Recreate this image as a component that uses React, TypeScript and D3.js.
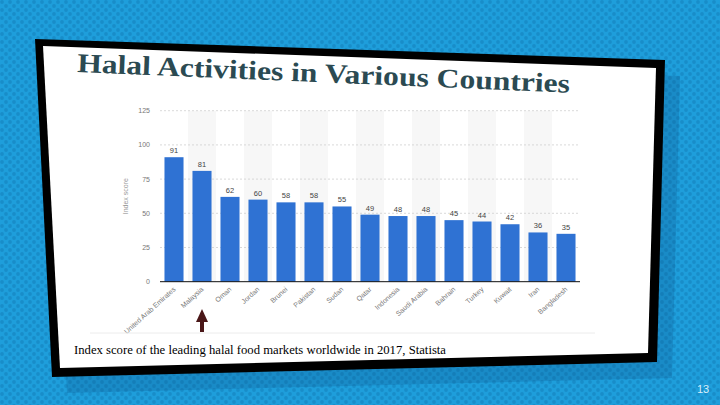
import React from "react";
import * as d3 from "d3";

const categories = [
  "United Arab Emirates", "Malaysia", "Oman", "Jordan", "Brunei", "Pakistan", "Sudan",
  "Qatar", "Indonesia", "Saudi Arabia", "Bahrain", "Turkey", "Kuwait", "Iran", "Bangladesh",
];
const values = [91, 81, 62, 60, 58, 58, 55, 49, 48, 48, 45, 44, 42, 36, 35];
const yTicks = [0, 25, 50, 75, 100, 125];
const titleText = "Halal Activities in Various Countries";
const captionText = "Index score of the leading halal food markets worldwide in 2017, Statista";
const yAxisTitle = "Index score";
const pageNumber = "13";

export default function App() {
  const x = d3.scaleBand<string>().domain(categories).range([160, 580]).paddingInner(0.32).paddingOuter(0.16);
  const y = d3.scaleLinear().domain([0, 125]).range([281.7, 110.7]);
  const step = x.step();

  const outer = [[35, 39], [665, 60], [657, 362], [52, 377]];
  const inner = [[43, 46], [656, 68], [648, 353], [60, 368]];
  const shadow = outer.map(([a, b]) => [a + 15, b + 16]);
  const pts = (p: number[][]) => p.map((q) => q.join(",")).join(" ");

  return (
    <svg width={720} height={405} style={{ position: "absolute", left: 0, top: 0 }}>
      <defs>
        <pattern id="dots" width={8} height={8} patternUnits="userSpaceOnUse">
          <rect width={8} height={8} fill="#1e9edb" />
          <circle cx={2} cy={2} r={1.9} fill="#188dc9" />
          <circle cx={6} cy={6} r={1.9} fill="#188dc9" />
        </pattern>
      </defs>
      <rect width={720} height={405} fill="url(#dots)" />
      <polygon points={pts(shadow)} fill="#0a4a80" opacity={0.22} />
      <polygon points={pts(outer)} fill="#000" />
      <polygon points={pts(inner)} fill="#fff" />

      <text
        x={77}
        y={72}
        transform="rotate(2.4 77 72)"
        fontFamily="'Liberation Serif', serif"
        fontWeight="bold"
        fontSize={27}
        fill="#2b4a52"
        textLength={493}
        lengthAdjust="spacingAndGlyphs"
      >
        {titleText}
      </text>

      {categories.map((c, i) =>
        i % 2 === 1 ? (
          <rect key={"bg" + c} x={(x(c) as number) + x.bandwidth() / 2 - step / 2} y={y(125)} width={step} height={y(0) - y(125)} fill="#f7f7f7" />
        ) : null
      )}

      {yTicks.filter((t) => t > 0).map((t) => (
        <line key={"g" + t} x1={160} x2={580} y1={y(t)} y2={y(t)} stroke="#cfcfcf" strokeWidth={0.8} strokeDasharray="2,2" />
      ))}
      {yTicks.map((t) => (
        <text key={"yt" + t} x={150} y={y(t) + 2.5} textAnchor="end" fontFamily="'Liberation Sans', Arial, sans-serif" fontSize={7} fill="#777">
          {t}
        </text>
      ))}
      <text
        transform={`translate(128, ${y(62.5)}) rotate(-90)`}
        textAnchor="middle"
        fontFamily="'Liberation Sans', Arial, sans-serif"
        fontSize={7}
        fill="#999"
      >
        {yAxisTitle}
      </text>

      {categories.map((c, i) => (
        <rect key={"b" + c} x={x(c)} y={y(values[i])} width={x.bandwidth()} height={y(0) - y(values[i])} fill="#2f72d3" />
      ))}
      {categories.map((c, i) => (
        <text key={"v" + c} x={(x(c) as number) + x.bandwidth() / 2} y={y(values[i]) - 4} textAnchor="middle" fontFamily="'Liberation Sans', Arial, sans-serif" fontSize={7.5} fill="#444">
          {values[i]}
        </text>
      ))}
      <line x1={160} x2={580} y1={y(0)} y2={y(0)} stroke="#111" strokeWidth={1} />

      {categories.map((c) => {
        const cx = (x(c) as number) + x.bandwidth() / 2 + 2;
        const cy = 290;
        return (
          <text key={"c" + c} x={cx} y={cy} transform={`rotate(-42 ${cx} ${cy})`} textAnchor="end" fontFamily="'Liberation Sans', Arial, sans-serif" fontSize={7} fill="#777">
            {c}
          </text>
        );
      })}

      <line x1={90} x2={595} y1={333} y2={333} stroke="#ececec" strokeWidth={1} />

      <g fill="#4a1718">
        <rect x={(x("Malaysia") as number) + x.bandwidth() / 2 - 2} y={320} width={4} height={12} />
        <polygon points={`${(x("Malaysia") as number) + x.bandwidth() / 2},309 ${(x("Malaysia") as number) + x.bandwidth() / 2 - 6},322 ${(x("Malaysia") as number) + x.bandwidth() / 2 + 6},322`} />
      </g>

      <text x={74} y={354} fontFamily="'Liberation Serif', serif" fontSize={13} fill="#000" textLength={372} lengthAdjust="spacingAndGlyphs">
        {captionText}
      </text>

      <text x={697} y={393} fontFamily="'Liberation Sans', Arial, sans-serif" fontSize={11} fill="#d8eefa">
        {pageNumber}
      </text>
    </svg>
  );
}
